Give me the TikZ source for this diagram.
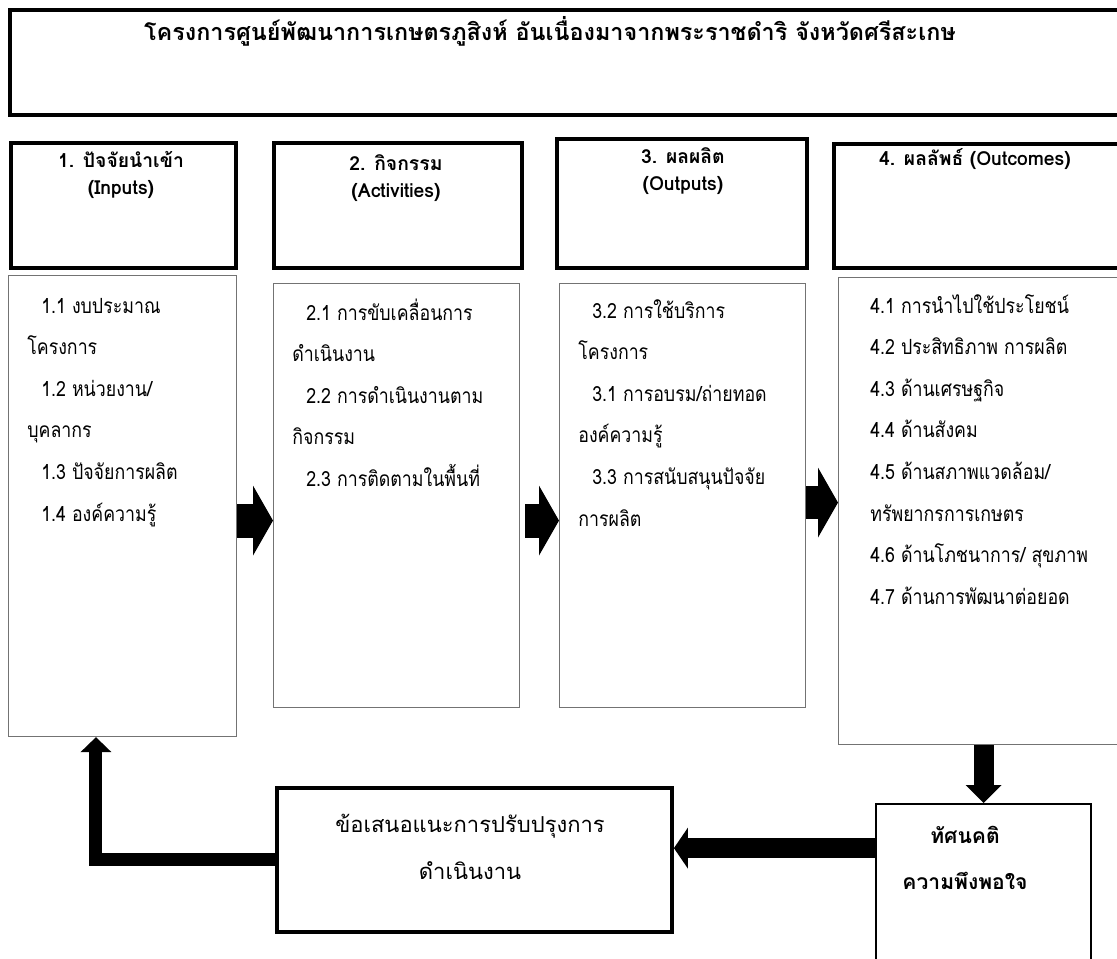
\documentclass[tikz,border=0pt]{standalone}
\usepackage{fontspec}
\newfontfamily\thaifont[Script=Thai]{Loma}
\newfontfamily\thainarrow[Script=Thai, FakeStretch=0.85]{Loma}
\usetikzlibrary{positioning,arrows.meta}
\tikzset{
	hbox/.style={draw, line width=0.08cm, inner sep=0pt, anchor=north west},
	bbox/.style={draw=black!55, line width=0.025cm, inner sep=0pt, anchor=north west},
	htxt/.style={font=\thaifont\bfseries\fontsize{11}{15.4}\selectfont, inner sep=0pt, anchor=base},
	btxt/.style={font=\thainarrow\fontsize{11.9}{23.7}\selectfont, inner sep=0pt, anchor=base west},
	blk/.style n args={3}{line width=#1, -{Triangle[length=#2, width=#3, line width=0pt]}}
}
\newcommand{\ind}{\hspace*{0.28cm}}

\begin{document}
\begin{tikzpicture}[x=0.02cm, y=-0.02cm]
			%%%%% START %%%%%
			
			\path[use as bounding box, fill=white] (0, 0) rectangle (1117, 958);
			\clip (0, 0) rectangle (1117, 958);
			
			\node[hbox, minimum width=22.44cm, minimum height=2.1cm] (title) at (8, 8) {};
			\node[htxt, font=\thaifont\bfseries\fontsize{13.3}{15}\selectfont] (titletxt) at (550, 40) {โครงการศูนย์พัฒนาการเกษตรภูสิงห์ อันเนื่องมาจากพระราชดำริ จังหวัดศรีสะเกษ};
			
			\node[hbox, minimum width=4.5cm, minimum height=2.5cm] (hA) at (9, 141) {};
			\node[hbox, minimum width=4.96cm, minimum height=2.5cm] (hB) at (272, 141) {};
			\node[hbox, minimum width=5cm, minimum height=2.58cm] (hC) at (555, 137) {};
			\node[hbox, minimum width=6cm, minimum height=2.48cm] (hD) at (832, 142) {};
			
			\node[htxt] (hAtxt) at (121, 167) {\begin{tabular}[t]{@{}c@{}}1. ปัจจัยนำเข้า\\(Inputs)\end{tabular}};
			\node[htxt] (hBtxt) at (396, 170) {\begin{tabular}[t]{@{}c@{}}2. กิจกรรม\\(Activities)\end{tabular}};
			\node[htxt] (hCtxt) at (683, 163) {\begin{tabular}[t]{@{}c@{}}3. ผลผลิต\\(Outputs)\end{tabular}};
			\node[htxt] (hDtxt) at (975, 165) {4. ผลลัพธ์ (Outcomes)};
			
			\node[bbox, minimum width=4.56cm, minimum height=9.22cm] (bA) at (8, 275) {};
			\node[bbox, minimum width=4.92cm, minimum height=8.48cm] (bB) at (273, 283) {};
			\node[bbox, minimum width=4.92cm, minimum height=8.48cm] (bC) at (559, 283) {};
			\node[bbox, minimum width=6cm, minimum height=9.34cm] (bD) at (838, 277) {};
			
			\node[btxt] (tA) at (27, 313) {\parbox[t]{4.2cm}{\raggedright
				\ind 1.1 งบประมาณ\\
				โครงการ\\
				\ind 1.2 หน่วยงาน/\\
				บุคลากร\\
				\ind 1.3 ปัจจัยการผลิต\\
				\ind 1.4 องค์ความรู้}};
			\node[btxt] (tB) at (292, 320) {\parbox[t]{4.6cm}{\raggedright
				\ind 2.1 การขับเคลื่อนการ\\
				ดำเนินงาน\\
				\ind 2.2 การดำเนินงานตาม\\
				กิจกรรม\\
				\ind 2.3 การติดตามในพื้นที่}};
			\node[btxt] (tC) at (578, 318) {\parbox[t]{4.6cm}{\raggedright
				\ind 3.2 การใช้บริการ\\
				โครงการ\\
				\ind 3.1 การอบรม/ถ่ายทอด\\
				องค์ความรู้\\
				\ind 3.3 การสนับสนุนปัจจัย\\
				การผลิต}};
			\node[btxt] (tD) at (870, 313) {\parbox[t]{5cm}{\raggedright
				4.1 การนำไปใช้ประโยชน์\\
				4.2 ประสิทธิภาพ การผลิต\\
				4.3 ด้านเศรษฐกิจ\\
				4.4 ด้านสังคม\\
				4.5 ด้านสภาพแวดล้อม/\\
				ทรัพยากรการเกษตร\\
				4.6 ด้านโภชนาการ/ สุขภาพ\\
				4.7 ด้านการพัฒนาต่อยอด}};
			
			\node[hbox, minimum width=7.9cm, minimum height=2.88cm] (fb) at (275, 786) {};
			\node[htxt, font=\thaifont\fontsize{12.5}{27.3}\selectfont] (fbtxt) at (470, 832) {\begin{tabular}[t]{@{}c@{}}ข้อเสนอแนะการปรับปรุงการ\\ดำเนินงาน\end{tabular}};
			
			\node[hbox, line width=0.045cm, minimum width=4.3cm, minimum height=3.4cm] (att) at (875, 803) {};
			\node[htxt, font=\thaifont\bfseries\fontsize{12}{26.7}\selectfont] (atttxt) at (965, 843) {\begin{tabular}[t]{@{}c@{}}ทัศนคติ\\ความพึงพอใจ\end{tabular}};
			
			% block arrows
			\draw[blk={0.68cm}{0.4cm}{1.4cm}] ([yshift=-0.29cm]bA.east) -- ([yshift=-0.29cm]bA.east -| bB.west);
			\draw[blk={0.68cm}{0.4cm}{1.4cm}] ([xshift=0.1cm, yshift=-0.5cm]bB.east) -- ([yshift=-0.5cm]bB.east -| bC.west);
			\draw[blk={0.66cm}{0.4cm}{1.4cm}] ([yshift=-0.14cm]bC.east) -- ([yshift=-0.14cm]bC.east -| bD.west);
			\draw[blk={0.4cm}{0.36cm}{0.72cm}] (att.north |- bD.south) -- (att.north);
			\draw[blk={0.4cm}{0.28cm}{0.82cm}] ([yshift=0.82cm]att.west) -- ([yshift=0.82cm]att.west -| fb.east);
			\draw[blk={0.26cm}{0.3cm}{0.62cm}] (fb.west) -| ([xshift=1.76cm]bA.south west);
			
			%%%%% END %%%%%
\end{tikzpicture}
\end{document}
